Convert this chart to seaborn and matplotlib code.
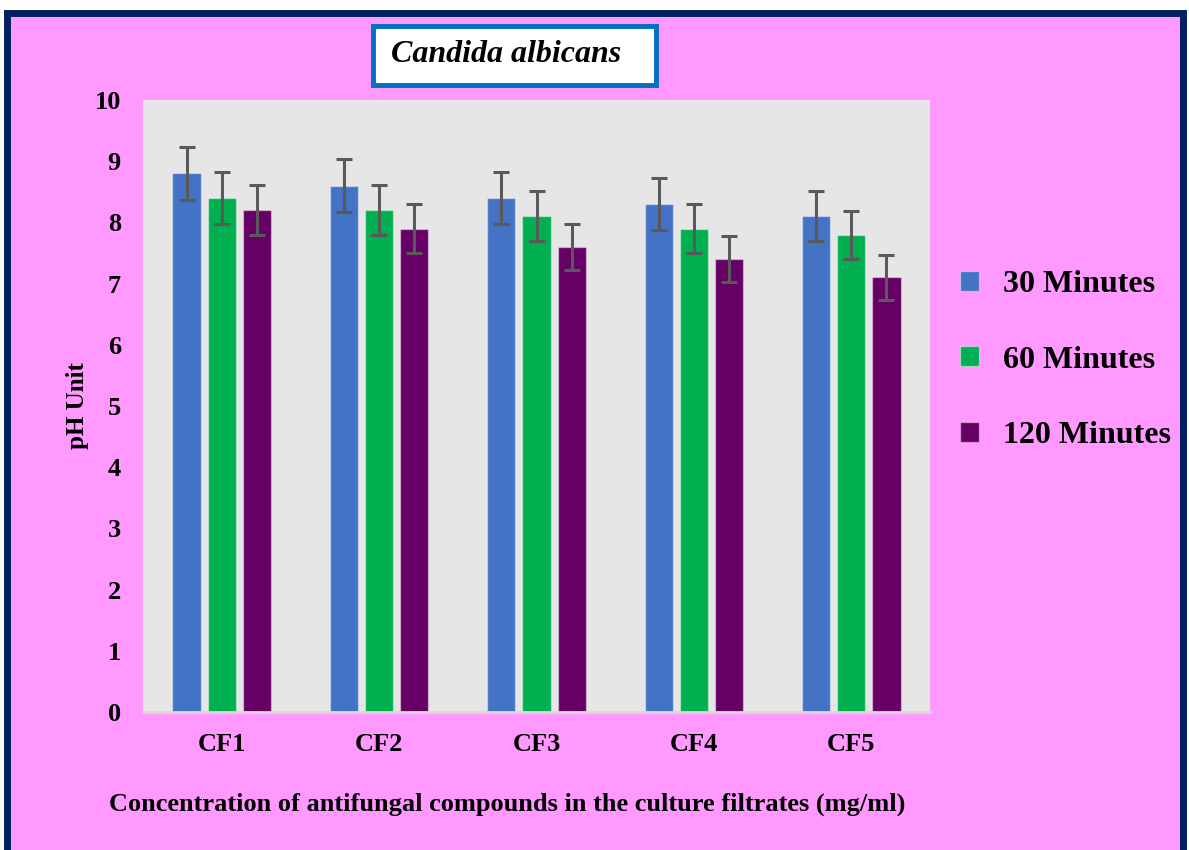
import pandas as pd
import numpy as np
import seaborn as sns
import matplotlib.pyplot as plt
from matplotlib.patches import Rectangle

# values
filtrates = ['CF1', 'CF2', 'CF3', 'CF4', 'CF5']
times = ['30 Minutes', '60 Minutes', '120 Minutes']
ph_30 = [8.8, 8.6, 8.4, 8.3, 8.1]
ph_60 = [8.4, 8.2, 8.1, 7.9, 7.8]
ph_120 = [8.2, 7.9, 7.6, 7.4, 7.1]
err_30 = [0.44, 0.43, 0.42, 0.42, 0.41]
err_60 = [0.42, 0.41, 0.41, 0.40, 0.39]
err_120 = [0.41, 0.40, 0.38, 0.37, 0.36]

df = pd.DataFrame({'Filtrate': filtrates * 3,
                   'Time': [t for t in times for _ in filtrates],
                   'pH': ph_30 + ph_60 + ph_120,
                   'err': err_30 + err_60 + err_120})

colors = ['#4472C4', '#00B050', '#660066']
palette = sns.color_palette(colors)

sns.set_style('white')
plt.rcParams['font.family'] = ['Liberation Serif', 'DejaVu Serif']
plt.rcParams['font.weight'] = 'bold'
plt.rcParams['text.color'] = 'black'
plt.rcParams['axes.labelcolor'] = 'black'
plt.rcParams['xtick.color'] = 'black'
plt.rcParams['ytick.color'] = 'black'

fig = plt.figure(figsize=(11.89, 8.5), dpi=100, facecolor='white')
W, H = 1189, 850
# navy frame with pink fill
fig.patches.append(Rectangle((7 / W, -0.05), 1176 / W, 1.05 - 13 / H,
                             transform=fig.transFigure, facecolor='#FF99FF',
                             edgecolor='#002060', lw=5, zorder=-5))

ax = fig.add_axes([143 / W, 1 - 712 / H, 787 / W, 612 / H])
ax.set_facecolor('#E6E6E6')
sns.barplot(data=df, x='Filtrate', y='pH', hue='Time', hue_order=times,
            palette=palette, errorbar=None, width=0.67, gap=0.2,
            saturation=1, edgecolor=(1, 1, 1, 0.4), linewidth=1, ax=ax)

# error bars at the bar centres seaborn placed
for cont, t in zip(ax.containers, times):
    sub = df[df.Time == t]
    xs = [p.get_x() + p.get_width() / 2 for p in cont.patches]
    ax.errorbar(xs, sub.pH.values, yerr=sub.err.values, fmt='none',
                ecolor='#595959', elinewidth=2.2, capsize=6, capthick=2.2, zorder=5)

ax.set_xlim(-0.5, 4.5)
ax.set_ylim(0, 10)
ax.set_yticks(range(0, 11))
sns.despine(ax=ax, left=True, top=True, right=True)
ax.spines['bottom'].set_color('#D9D9D9')
ax.spines['bottom'].set_linewidth(2)
ax.tick_params(axis='both', length=0, labelsize=19)
ax.tick_params(axis='y', pad=16)
ax.tick_params(axis='x', pad=15)
for lab in ax.get_xticklabels() + ax.get_yticklabels():
    lab.set_fontweight('bold')
ax.set_xlabel('Concentration of antifungal compounds in the culture filtrates (mg/ml)',
              fontsize=19, fontweight='bold')
ax.xaxis.set_label_coords(0.4625, -0.132)
ax.set_ylabel('pH Unit', fontsize=18, fontweight='bold', labelpad=4)

handles, labels = ax.get_legend_handles_labels()
ax.legend(handles, labels, loc='center left', bbox_to_anchor=(1.038, 0.575),
          frameon=False, handlelength=0.6, handleheight=0.6, borderpad=0,
          borderaxespad=0, handletextpad=0.75, labelspacing=1.45,
          prop={'weight': 'bold', 'size': 23})

# title box
fig.patches.append(Rectangle((373 / W, 1 - 85 / H), 283 / W, 59 / H,
                             transform=fig.transFigure, facecolor='white',
                             edgecolor='#0070C0', lw=3.5, zorder=3))
fig.text(506 / W, 1 - 55 / H, 'Candida albicans', ha='center', va='center',
         fontsize=23, fontweight='bold', fontstyle='italic', zorder=4)

fig.savefig('out.png', dpi=100, facecolor=fig.get_facecolor())
